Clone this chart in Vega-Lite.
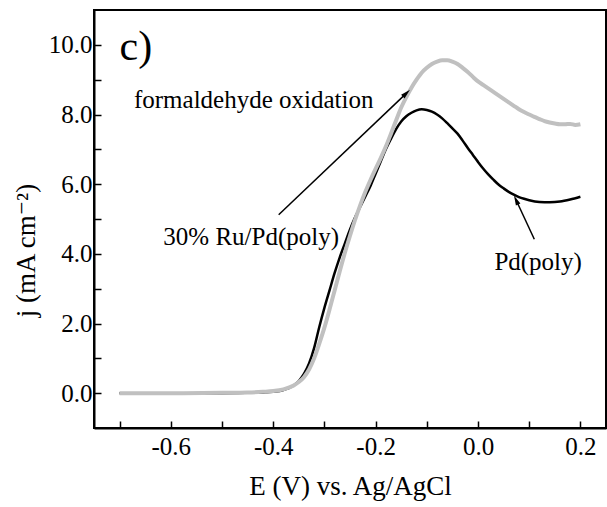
{
  "$schema": "https://vega.github.io/schema/vega-lite/v6.json",
  "width": 512,
  "height": 418,
  "autosize": "none",
  "padding": {"left": 94, "top": 10, "right": 1, "bottom": 79},
  "config": {
    "view": {"stroke": "black", "strokeWidth": 2},
    "font": "Liberation Serif, DejaVu Serif, serif",
    "axis": {
      "domainColor": "black", "domainWidth": 2,
      "tickColor": "black", "tickWidth": 1.5, "tickSize": -7,
      "labelColor": "black", "labelFont": "Liberation Serif, DejaVu Serif, serif", "labelFontSize": 25,
      "titleColor": "black", "titleFont": "Liberation Serif, DejaVu Serif, serif", "titleFontSize": 27, "titleFontWeight": "normal",
      "grid": false
    }
  },
  "datasets": {
    "curves": [
      {"E": -0.70, "j": 0.0, "s": "Pd(poly)"},
      {"E": -0.60, "j": 0.0, "s": "Pd(poly)"},
      {"E": -0.50, "j": 0.0, "s": "Pd(poly)"},
      {"E": -0.45, "j": 0.01, "s": "Pd(poly)"},
      {"E": -0.42, "j": 0.02, "s": "Pd(poly)"},
      {"E": -0.40, "j": 0.04, "s": "Pd(poly)"},
      {"E": -0.38, "j": 0.09, "s": "Pd(poly)"},
      {"E": -0.36, "j": 0.22, "s": "Pd(poly)"},
      {"E": -0.35, "j": 0.35, "s": "Pd(poly)"},
      {"E": -0.34, "j": 0.55, "s": "Pd(poly)"},
      {"E": -0.33, "j": 0.85, "s": "Pd(poly)"},
      {"E": -0.32, "j": 1.3, "s": "Pd(poly)"},
      {"E": -0.31, "j": 1.9, "s": "Pd(poly)"},
      {"E": -0.30, "j": 2.45, "s": "Pd(poly)"},
      {"E": -0.29, "j": 2.95, "s": "Pd(poly)"},
      {"E": -0.28, "j": 3.45, "s": "Pd(poly)"},
      {"E": -0.27, "j": 3.9, "s": "Pd(poly)"},
      {"E": -0.26, "j": 4.3, "s": "Pd(poly)"},
      {"E": -0.25, "j": 4.7, "s": "Pd(poly)"},
      {"E": -0.24, "j": 5.05, "s": "Pd(poly)"},
      {"E": -0.23, "j": 5.35, "s": "Pd(poly)"},
      {"E": -0.22, "j": 5.65, "s": "Pd(poly)"},
      {"E": -0.21, "j": 5.95, "s": "Pd(poly)"},
      {"E": -0.20, "j": 6.3, "s": "Pd(poly)"},
      {"E": -0.19, "j": 6.65, "s": "Pd(poly)"},
      {"E": -0.18, "j": 7.0, "s": "Pd(poly)"},
      {"E": -0.17, "j": 7.3, "s": "Pd(poly)"},
      {"E": -0.16, "j": 7.58, "s": "Pd(poly)"},
      {"E": -0.15, "j": 7.8, "s": "Pd(poly)"},
      {"E": -0.14, "j": 7.95, "s": "Pd(poly)"},
      {"E": -0.13, "j": 8.05, "s": "Pd(poly)"},
      {"E": -0.12, "j": 8.12, "s": "Pd(poly)"},
      {"E": -0.11, "j": 8.15, "s": "Pd(poly)"},
      {"E": -0.10, "j": 8.13, "s": "Pd(poly)"},
      {"E": -0.09, "j": 8.08, "s": "Pd(poly)"},
      {"E": -0.08, "j": 8.0, "s": "Pd(poly)"},
      {"E": -0.07, "j": 7.89, "s": "Pd(poly)"},
      {"E": -0.06, "j": 7.75, "s": "Pd(poly)"},
      {"E": -0.05, "j": 7.6, "s": "Pd(poly)"},
      {"E": -0.04, "j": 7.45, "s": "Pd(poly)"},
      {"E": -0.03, "j": 7.25, "s": "Pd(poly)"},
      {"E": -0.02, "j": 7.04, "s": "Pd(poly)"},
      {"E": -0.01, "j": 6.84, "s": "Pd(poly)"},
      {"E": 0.00, "j": 6.64, "s": "Pd(poly)"},
      {"E": 0.01, "j": 6.45, "s": "Pd(poly)"},
      {"E": 0.02, "j": 6.28, "s": "Pd(poly)"},
      {"E": 0.03, "j": 6.13, "s": "Pd(poly)"},
      {"E": 0.04, "j": 5.99, "s": "Pd(poly)"},
      {"E": 0.05, "j": 5.88, "s": "Pd(poly)"},
      {"E": 0.06, "j": 5.78, "s": "Pd(poly)"},
      {"E": 0.07, "j": 5.7, "s": "Pd(poly)"},
      {"E": 0.08, "j": 5.63, "s": "Pd(poly)"},
      {"E": 0.09, "j": 5.58, "s": "Pd(poly)"},
      {"E": 0.10, "j": 5.54, "s": "Pd(poly)"},
      {"E": 0.12, "j": 5.49, "s": "Pd(poly)"},
      {"E": 0.14, "j": 5.48, "s": "Pd(poly)"},
      {"E": 0.16, "j": 5.5, "s": "Pd(poly)"},
      {"E": 0.18, "j": 5.56, "s": "Pd(poly)"},
      {"E": 0.20, "j": 5.64, "s": "Pd(poly)"},

      {"E": -0.70, "j": 0.0, "s": "30% Ru/Pd(poly)"},
      {"E": -0.60, "j": 0.0, "s": "30% Ru/Pd(poly)"},
      {"E": -0.50, "j": 0.01, "s": "30% Ru/Pd(poly)"},
      {"E": -0.45, "j": 0.02, "s": "30% Ru/Pd(poly)"},
      {"E": -0.42, "j": 0.04, "s": "30% Ru/Pd(poly)"},
      {"E": -0.40, "j": 0.06, "s": "30% Ru/Pd(poly)"},
      {"E": -0.38, "j": 0.11, "s": "30% Ru/Pd(poly)"},
      {"E": -0.36, "j": 0.22, "s": "30% Ru/Pd(poly)"},
      {"E": -0.35, "j": 0.32, "s": "30% Ru/Pd(poly)"},
      {"E": -0.34, "j": 0.46, "s": "30% Ru/Pd(poly)"},
      {"E": -0.33, "j": 0.68, "s": "30% Ru/Pd(poly)"},
      {"E": -0.32, "j": 1.0, "s": "30% Ru/Pd(poly)"},
      {"E": -0.31, "j": 1.42, "s": "30% Ru/Pd(poly)"},
      {"E": -0.30, "j": 1.88, "s": "30% Ru/Pd(poly)"},
      {"E": -0.29, "j": 2.4, "s": "30% Ru/Pd(poly)"},
      {"E": -0.28, "j": 2.95, "s": "30% Ru/Pd(poly)"},
      {"E": -0.27, "j": 3.5, "s": "30% Ru/Pd(poly)"},
      {"E": -0.26, "j": 4.03, "s": "30% Ru/Pd(poly)"},
      {"E": -0.25, "j": 4.52, "s": "30% Ru/Pd(poly)"},
      {"E": -0.24, "j": 4.98, "s": "30% Ru/Pd(poly)"},
      {"E": -0.23, "j": 5.4, "s": "30% Ru/Pd(poly)"},
      {"E": -0.22, "j": 5.78, "s": "30% Ru/Pd(poly)"},
      {"E": -0.21, "j": 6.12, "s": "30% Ru/Pd(poly)"},
      {"E": -0.20, "j": 6.44, "s": "30% Ru/Pd(poly)"},
      {"E": -0.19, "j": 6.75, "s": "30% Ru/Pd(poly)"},
      {"E": -0.18, "j": 7.08, "s": "30% Ru/Pd(poly)"},
      {"E": -0.17, "j": 7.45, "s": "30% Ru/Pd(poly)"},
      {"E": -0.16, "j": 7.83, "s": "30% Ru/Pd(poly)"},
      {"E": -0.15, "j": 8.2, "s": "30% Ru/Pd(poly)"},
      {"E": -0.14, "j": 8.5, "s": "30% Ru/Pd(poly)"},
      {"E": -0.13, "j": 8.77, "s": "30% Ru/Pd(poly)"},
      {"E": -0.12, "j": 9.0, "s": "30% Ru/Pd(poly)"},
      {"E": -0.11, "j": 9.2, "s": "30% Ru/Pd(poly)"},
      {"E": -0.10, "j": 9.34, "s": "30% Ru/Pd(poly)"},
      {"E": -0.09, "j": 9.45, "s": "30% Ru/Pd(poly)"},
      {"E": -0.08, "j": 9.52, "s": "30% Ru/Pd(poly)"},
      {"E": -0.07, "j": 9.56, "s": "30% Ru/Pd(poly)"},
      {"E": -0.06, "j": 9.56, "s": "30% Ru/Pd(poly)"},
      {"E": -0.05, "j": 9.52, "s": "30% Ru/Pd(poly)"},
      {"E": -0.04, "j": 9.45, "s": "30% Ru/Pd(poly)"},
      {"E": -0.03, "j": 9.34, "s": "30% Ru/Pd(poly)"},
      {"E": -0.02, "j": 9.22, "s": "30% Ru/Pd(poly)"},
      {"E": -0.01, "j": 9.08, "s": "30% Ru/Pd(poly)"},
      {"E": 0.00, "j": 8.95, "s": "30% Ru/Pd(poly)"},
      {"E": 0.01, "j": 8.85, "s": "30% Ru/Pd(poly)"},
      {"E": 0.02, "j": 8.75, "s": "30% Ru/Pd(poly)"},
      {"E": 0.03, "j": 8.65, "s": "30% Ru/Pd(poly)"},
      {"E": 0.04, "j": 8.55, "s": "30% Ru/Pd(poly)"},
      {"E": 0.05, "j": 8.45, "s": "30% Ru/Pd(poly)"},
      {"E": 0.06, "j": 8.35, "s": "30% Ru/Pd(poly)"},
      {"E": 0.07, "j": 8.25, "s": "30% Ru/Pd(poly)"},
      {"E": 0.08, "j": 8.15, "s": "30% Ru/Pd(poly)"},
      {"E": 0.09, "j": 8.07, "s": "30% Ru/Pd(poly)"},
      {"E": 0.10, "j": 8.0, "s": "30% Ru/Pd(poly)"},
      {"E": 0.11, "j": 7.93, "s": "30% Ru/Pd(poly)"},
      {"E": 0.12, "j": 7.87, "s": "30% Ru/Pd(poly)"},
      {"E": 0.13, "j": 7.81, "s": "30% Ru/Pd(poly)"},
      {"E": 0.14, "j": 7.77, "s": "30% Ru/Pd(poly)"},
      {"E": 0.15, "j": 7.74, "s": "30% Ru/Pd(poly)"},
      {"E": 0.16, "j": 7.72, "s": "30% Ru/Pd(poly)"},
      {"E": 0.17, "j": 7.72, "s": "30% Ru/Pd(poly)"},
      {"E": 0.18, "j": 7.73, "s": "30% Ru/Pd(poly)"},
      {"E": 0.19, "j": 7.7, "s": "30% Ru/Pd(poly)"},
      {"E": 0.20, "j": 7.72, "s": "30% Ru/Pd(poly)"}
    ],
    "arrows": [
      {"x": -0.3893, "y": 5.12, "x2": -0.1406, "y2": 8.60, "angle": 46.4},
      {"x": 0.1100, "y": 4.42, "x2": 0.0748, "y2": 5.53, "angle": 335}
    ],
    "labels": [
      {"x": -0.700, "y": 9.57, "text": "c)", "size": 42},
      {"x": -0.672, "y": 8.18, "text": "formaldehyde oxidation", "size": 25},
      {"x": -0.6146, "y": 4.25, "text": "30% Ru/Pd(poly)", "size": 25},
      {"x": 0.032, "y": 3.54, "text": "Pd(poly)", "size": 25}
    ]
  },
  "layer": [
    {
      "data": {"name": "curves"},
      "mark": {"type": "line", "interpolate": "monotone"},
      "encoding": {
        "x": {
          "field": "E", "type": "quantitative",
          "scale": {"domain": [-0.75, 0.25], "nice": false, "zero": false},
          "axis": {
            "title": "E (V) vs. Ag/AgCl",
            "values": [-0.7, -0.6, -0.5, -0.4, -0.3, -0.2, -0.1, 0.0, 0.1, 0.2],
            "labelExpr": "abs(round(datum.value*10)) % 2 == 0 ? replace(format(datum.value, '.1f'), '\u2212', '-') : ''",
            "labelPadding": 13,
            "titlePadding": 14
          }
        },
        "y": {
          "field": "j", "type": "quantitative",
          "scale": {"domain": [-1, 11], "nice": false, "zero": false},
          "axis": {
            "title": "j (mA cm\u207b\u00b2)",
            "values": [0, 1, 2, 3, 4, 5, 6, 7, 8, 9, 10],
            "labelExpr": "round(datum.value) % 2 == 0 ? format(datum.value, '.1f') : ''",
            "labelPadding": 9,
            "titlePadding": 8,
            "titleY": 240
          }
        },
        "color": {
          "field": "s", "type": "nominal",
          "scale": {"domain": ["Pd(poly)", "30% Ru/Pd(poly)"], "range": ["#000000", "#c0c0c0"]},
          "legend": null
        },
        "strokeWidth": {
          "field": "s", "type": "nominal",
          "scale": {"domain": ["Pd(poly)", "30% Ru/Pd(poly)"], "range": [2.5, 4]},
          "legend": null
        },
        "order": {"field": "E", "type": "quantitative"}
      }
    },
    {
      "data": {"name": "arrows"},
      "mark": {"type": "rule", "color": "black", "strokeWidth": 1.5},
      "encoding": {
        "x": {"field": "x", "type": "quantitative"},
        "y": {"field": "y", "type": "quantitative"},
        "x2": {"field": "x2"},
        "y2": {"field": "y2"}
      }
    },
    {
      "data": {"name": "arrows"},
      "mark": {"type": "point", "filled": true, "color": "black", "opacity": 1, "size": 121, "shape": "M0,-1L0.45,0.8L-0.45,0.8Z"},
      "encoding": {
        "x": {"field": "x2", "type": "quantitative"},
        "y": {"field": "y2", "type": "quantitative"},
        "angle": {"field": "angle", "type": "quantitative", "scale": null}
      }
    },
    {
      "data": {"name": "labels"},
      "mark": {"type": "text", "align": "left", "baseline": "alphabetic", "font": "Liberation Serif, DejaVu Serif, serif", "color": "black"},
      "encoding": {
        "x": {"field": "x", "type": "quantitative"},
        "y": {"field": "y", "type": "quantitative"},
        "text": {"field": "text"},
        "size": {"field": "size", "type": "quantitative", "scale": null}
      }
    }
  ]
}
